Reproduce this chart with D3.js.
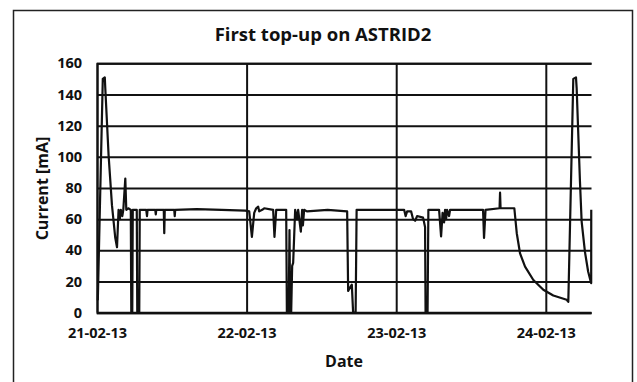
<!DOCTYPE html>
<html>
<head>
<meta charset="utf-8">
<script src="https://cdn.jsdelivr.net/npm/d3@7"></script>
<style>
  html, body { margin: 0; padding: 0; background: #fff; }
  svg { display: block; }
  text { font-family: "Open Sans", "Liberation Sans", sans-serif; font-weight: bold; fill: #111; }
</style>
</head>
<body>
<svg id="chart" width="637" height="382"></svg>
<script>
// ---- data (hours after 21-02-13 00:00, beam current in mA) ----
const startDate = new Date(2013, 1, 21, 0, 0);
const hours = [
  0.13, 0.93, 1.25, 1.33, 1.86, 2.40, 2.93, 3.21, 3.46, 3.66, 3.82, 4.06, 4.22, 4.54, 4.70, 5.02,
  5.42, 5.50, 5.66, 5.74, 6.38, 6.46, 6.78, 6.86, 7.90, 8.02, 8.11, 9.35, 9.43, 9.51, 10.71, 10.79,
  10.87, 12.39, 12.47, 12.55, 16.0, 20.0, 23.78, 24.42, 24.85, 25.22, 25.54, 25.86, 26.02, 26.50, 26.82,
  28.26, 28.47, 28.75, 30.35, 30.46, 30.75, 30.88, 30.99, 31.15, 31.31, 31.47, 31.79, 32.11, 32.27,
  32.70, 32.91, 33.03, 33.23, 33.67, 37.0, 40.13, 40.29, 40.88, 41.09, 41.49, 41.65, 45.0, 49.27,
  49.51, 49.75, 50.39, 50.71, 51.03, 51.35, 52.31, 52.63, 52.71, 53.03, 53.16, 54.88, 55.20, 55.44,
  55.68, 55.84, 56.00, 56.16, 56.48, 56.64, 61.93, 62.09, 62.33, 64.58, 64.66, 64.74, 66.95, 67.34,
  67.87, 68.67, 70.00, 71.60, 73.20, 75.35, 75.61, 76.41, 76.84, 76.95, 77.48, 77.75, 78.28, 78.79,
  79.20, 79.28, 79.29
];
const current = [
  8, 150, 151, 144, 101, 69, 48, 42, 66, 60, 66, 62, 66, 86, 66, 67,
  66, 0, 0, 66, 66, 0, 0, 66, 66, 62, 66, 66, 63, 66, 66, 51,
  66, 66, 62, 66, 66.5, 66, 65.5, 65, 48.6, 64, 67, 68, 65, 66, 67,
  66, 48.6, 66, 66, 0, 0, 53, 0, 0, 30, 32, 66, 60, 66,
  52, 66, 56, 66, 65, 66, 65, 14, 18, 0, 0, 66, 66, 66,
  62, 65, 65, 60, 59, 62, 61, 55, 0, 0, 66, 66, 49, 64,
  58, 66, 60, 66, 62, 66, 66, 48, 66, 67, 77, 67, 67, 51,
  38, 29.6, 21, 14.7, 11, 8.3, 7, 150, 151, 144, 84, 58.5, 39, 26.4,
  20, 19, 66
];
const xTickLabels = ["21-02-13", "22-02-13", "23-02-13", "24-02-13"];
const yTicks = [0, 20, 40, 60, 80, 100, 120, 140, 160];
const titleText = "First top-up on ASTRID2";
const xTitle = "Date";
const yTitle = "Current [mA]";

// ---- layout ----
const svg = d3.select("#chart");
const plot = { left: 97, right: 591.5, top: 63.3, bottom: 312.7 };
const hourMs = 3600 * 1000;
const toDate = h => new Date(startDate.getTime() + h * hourMs);
const series = hours.map((h, i) => ({ t: toDate(h), v: current[i] }));

const x = d3.scaleTime()
  .domain([startDate, toDate(79.33)])
  .range([plot.left, plot.right]);
const y = d3.scaleLinear().domain([0, 160]).range([plot.bottom, plot.top]);

// outer frame
svg.append("rect")
  .attr("x", 13.5).attr("y", 10.5).attr("width", 619).attr("height", 400)
  .attr("fill", "none").attr("stroke", "#222").attr("stroke-width", 1.5);

// title
svg.append("text")
  .attr("x", 323).attr("y", 41)
  .attr("text-anchor", "middle").style("font-size", "18.5px")
  .text(titleText);

// horizontal gridlines + y axis
const yAxis = d3.axisLeft(y).tickValues(yTicks).tickSize(-(plot.right - plot.left)).tickPadding(15);
const gy = svg.append("g").attr("transform", `translate(${plot.left},0)`).call(yAxis);
gy.select(".domain").attr("stroke", "#111").attr("stroke-width", 2);
gy.selectAll(".tick line").attr("stroke", "#111").attr("stroke-width", 2);
gy.selectAll(".tick text").style("font-size", "14.5px").attr("fill", "#111")
  .style("font-family", "'Open Sans', sans-serif").style("font-weight", "bold");

// vertical gridlines + x axis
const dayTicks = xTickLabels.map((_, i) => toDate(24 * i));
const xAxis = d3.axisBottom(x).tickValues(dayTicks)
  .tickFormat((d, i) => xTickLabels[i])
  .tickSize(-(plot.bottom - plot.top)).tickPadding(15);
const gx = svg.append("g").attr("transform", `translate(0,${plot.bottom})`).call(xAxis);
gx.select(".domain").attr("stroke", "#111").attr("stroke-width", 2)
  .attr("d", `M${plot.left},0H${plot.right}`);
gx.selectAll(".tick line").attr("stroke", "#111").attr("stroke-width", 2);
gx.selectAll(".tick text").style("font-size", "14.5px").attr("fill", "#111")
  .style("font-family", "'Open Sans', sans-serif").style("font-weight", "bold");

// series line
const line = d3.line().x(d => x(d.t)).y(d => y(d.v));
svg.append("path").datum(series)
  .attr("d", line)
  .attr("fill", "none").attr("stroke", "#111").attr("stroke-width", 2.2)
  .attr("stroke-linejoin", "round");

// axis titles
svg.append("text")
  .attr("x", 344).attr("y", 367)
  .attr("text-anchor", "middle").style("font-size", "16px")
  .text(xTitle);
svg.append("text")
  .attr("transform", "translate(48,188.5) rotate(-90)")
  .attr("text-anchor", "middle").style("font-size", "16px")
  .text(yTitle);
</script>
</body>
</html>
